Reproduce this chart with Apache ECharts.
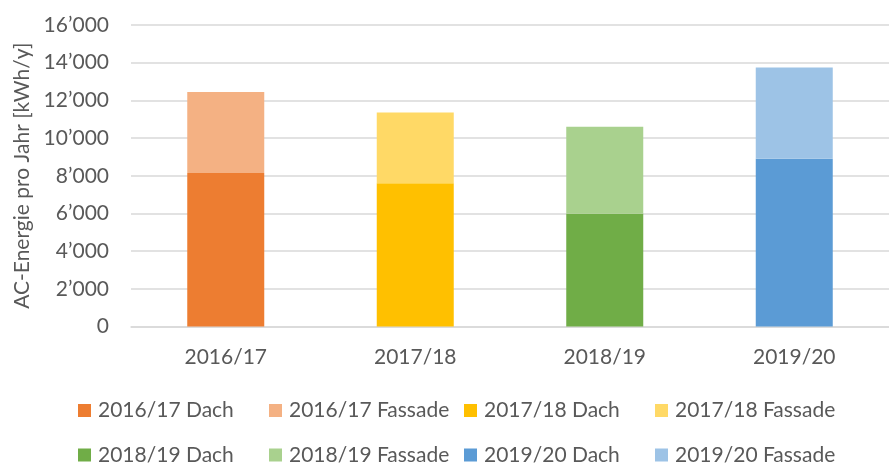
<!DOCTYPE html>
<html>
<head>
<meta charset="utf-8">
<script src="https://cdn.jsdelivr.net/npm/echarts@6/dist/echarts.min.js"></script>
<style>
html,body{margin:0;padding:0;background:#fff;}
#chart{width:889px;height:465px;}
</style>
</head>
<body>
<div id="chart"></div>
<script>
const categories = ['2016/17', '2017/18', '2018/19', '2019/20'];
const dachValues = [8150, 7600, 5980, 8900];
const fassadeValues = [4300, 3750, 4620, 4850];
const dachNames = ['2016/17 Dach', '2017/18 Dach', '2018/19 Dach', '2019/20 Dach'];
const fassadeNames = ['2016/17 Fassade', '2017/18 Fassade', '2018/19 Fassade', '2019/20 Fassade'];
const dachColors = ['#ED7D31', '#FFC000', '#70AD47', '#5B9BD5'];
const fassadeColors = ['#F4B183', '#FFD966', '#A9D18E', '#9DC3E6'];
const yTicks = [0, 2000, 4000, 6000, 8000, 10000, 12000, 14000, 16000];
const yAxisName = 'AC-Energie pro Jahr [kWh/y]';

const FONT = 'Lato';
const FS = 21;
const TXT = '#595959';
const GRIDC = '#d9d9d9';

function fmt(v) {
  const s = String(Math.round(v));
  return s.replace(/\B(?=(\d{3})+(?!\d))/g, '\u2019');
}

const series = [];
const legendOrder = [];
categories.forEach((c, i) => {
  const d = categories.map((_, j) => j === i ? dachValues[i] : null);
  const f = categories.map((_, j) => j === i ? fassadeValues[i] : null);
  series.push({ name: dachNames[i], type: 'bar', stack: 'total', barWidth: 77, data: d, itemStyle: { color: dachColors[i] } });
  series.push({ name: fassadeNames[i], type: 'bar', stack: 'total', barWidth: 77, data: f, itemStyle: { color: fassadeColors[i] } });
  legendOrder.push(dachNames[i], fassadeNames[i]);
});

const colLefts = [78, 269, 464, 655];
const rowTops = [400, 444.5];
const legends = legendOrder.map((name, k) => ({
  left: colLefts[k % 4],
  top: rowTops[Math.floor(k / 4)],
  padding: 0,
  itemWidth: 13,
  itemHeight: 13,
  icon: 'rect',
  data: [name],
  textStyle: { fontFamily: FONT, fontSize: FS, color: TXT, padding: [0, 0, 0, 2] }
}));

const chart = echarts.init(document.getElementById('chart'), null, { renderer: 'canvas' });
chart.setOption({
  animation: false,
  backgroundColor: '#fff',
  grid: { left: 131, right: -16, top: 25, bottom: 138.5, containLabel: false },
  legend: legends,
  xAxis: {
    type: 'category',
    data: categories,
    axisLine: { lineStyle: { color: GRIDC, width: 1.5 } },
    axisTick: { show: false },
    axisLabel: { fontFamily: FONT, fontSize: FS, color: TXT, margin: 20 }
  },
  yAxis: {
    type: 'value',
    min: yTicks[0],
    max: yTicks[yTicks.length - 1],
    interval: yTicks[1] - yTicks[0],
    name: yAxisName,
    nameLocation: 'middle',
    nameGap: 97,
    nameTextStyle: { fontFamily: FONT, fontSize: FS, color: TXT },
    axisLine: { show: false },
    axisTick: { show: false },
    axisLabel: { fontFamily: FONT, fontSize: FS, color: TXT, margin: 22, formatter: fmt },
    splitLine: { lineStyle: { color: GRIDC, width: 1.5 } }
  },
  series: series
});
</script>
</body>
</html>
